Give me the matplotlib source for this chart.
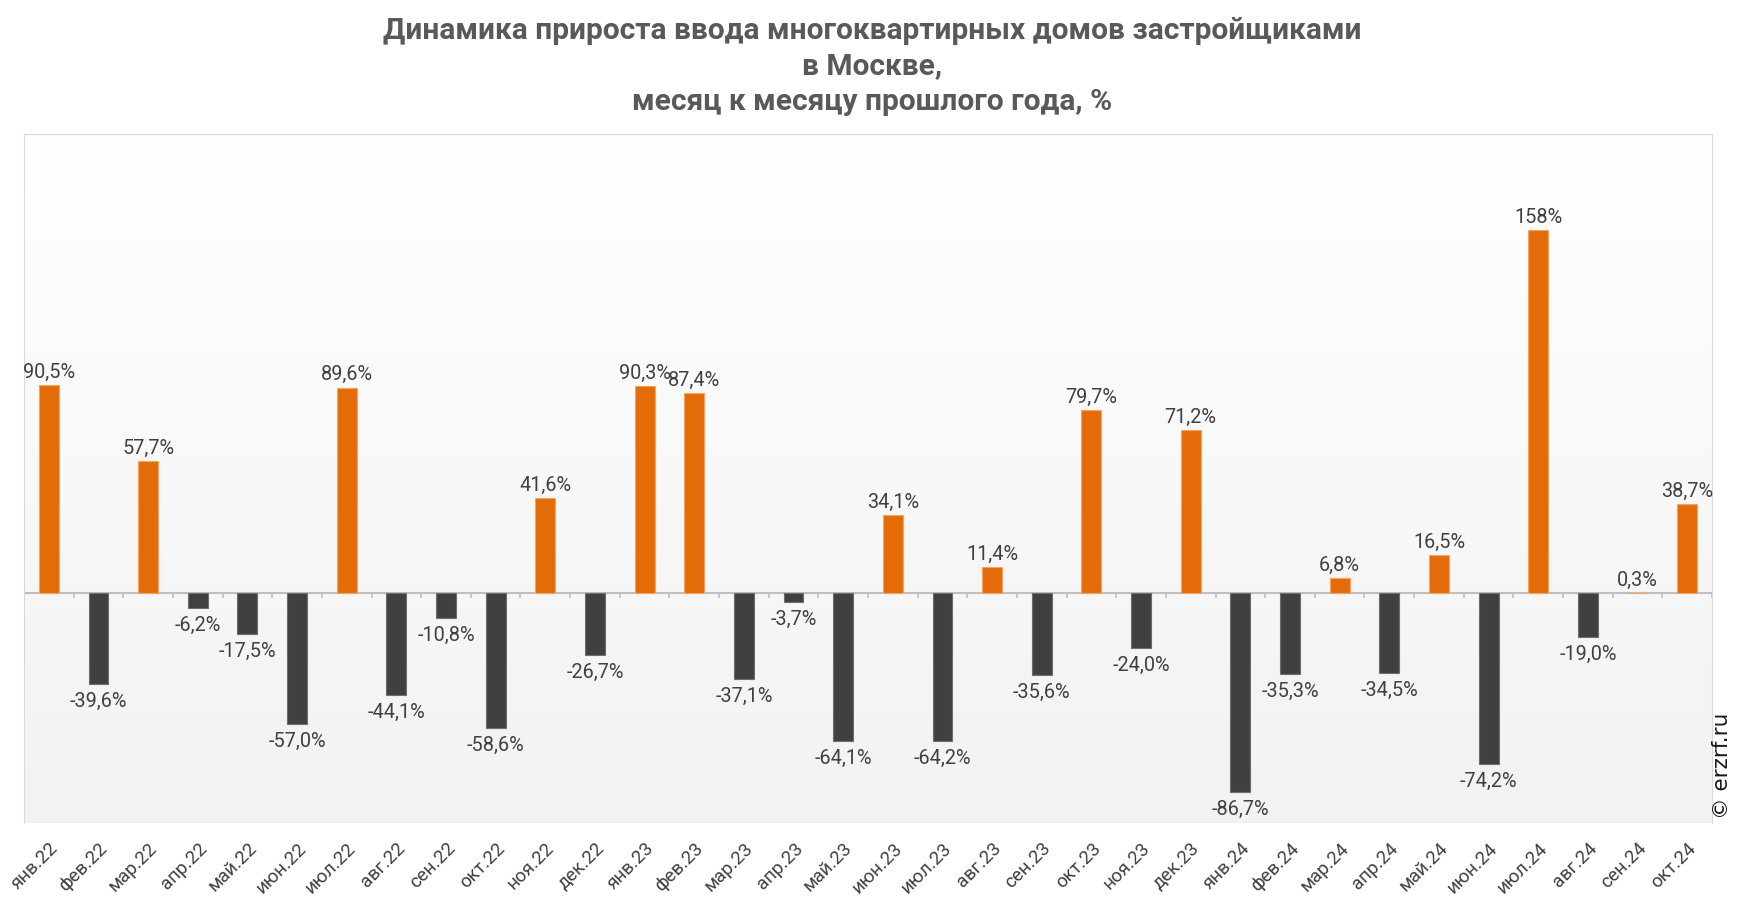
import matplotlib.pyplot as plt
import numpy as np

months = ['янв.22', 'фев.22', 'мар.22', 'апр.22', 'май.22', 'июн.22', 'июл.22', 'авг.22',
          'сен.22', 'окт.22', 'ноя.22', 'дек.22', 'янв.23', 'фев.23', 'мар.23', 'апр.23',
          'май.23', 'июн.23', 'июл.23', 'авг.23', 'сен.23', 'окт.23', 'ноя.23', 'дек.23',
          'янв.24', 'фев.24', 'мар.24', 'апр.24', 'май.24', 'июн.24', 'июл.24', 'авг.24',
          'сен.24', 'окт.24']
growth = [90.5, -39.6, 57.7, -6.2, -17.5, -57.0, 89.6, -44.1,
          -10.8, -58.6, 41.6, -26.7, 90.3, 87.4, -37.1, -3.7,
          -64.1, 34.1, -64.2, 11.4, -35.6, 79.7, -24.0, 71.2,
          -86.7, -35.3, 6.8, -34.5, 16.5, -74.2, 158.0, -19.0,
          0.3, 38.7]

plt.rcParams['font.family'] = ['Roboto', 'DejaVu Sans']

fig = plt.figure(figsize=(17.41, 9.12), dpi=100)
ax = fig.add_axes([24 / 1741, 88 / 912, 1688 / 1741, 689 / 912])

x = np.arange(len(months))
vals = np.array(growth)

# фон - градиент от белого к серому
grad = np.linspace(1.0, 0.949, 256).reshape(-1, 1)
ax.imshow(np.dstack([grad, grad, grad]), extent=[0, 1, 0, 1], transform=ax.transAxes,
          aspect='auto', zorder=0)

colors = ['#E36C09' if v >= 0 else '#404040' for v in vals]
edges = ['#F4A460' if v >= 0 else '#6E6E6E' for v in vals]
ax.bar(x, vals, width=0.4, color=colors, edgecolor=edges, linewidth=0.8, zorder=3)

ax.axhline(0, color='#BFBFBF', linewidth=1.5, zorder=2)
ax.vlines(np.arange(-0.5, len(months)), -2, 0, color='#BFBFBF', linewidth=1.2, zorder=2)

for xi, v in zip(x, vals):
    if abs(v) >= 100:
        txt = '%d%%' % round(v)
    else:
        txt = ('%.1f%%' % v).replace('.', ',')
    if v >= 0:
        ax.annotate(txt, (xi, v), xytext=(0, 3), textcoords='offset points',
                    ha='center', va='bottom', fontsize=14.3, color='#404040', zorder=4)
    else:
        ax.annotate(txt, (xi, v), xytext=(0, -5), textcoords='offset points',
                    ha='center', va='top', fontsize=14.3, color='#404040', zorder=4)

ax.set_xlim(-0.5, len(months) - 0.5)
ax.set_ylim(-100, 200)
ax.set_yticks([])
ax.set_xticks(x)
ax.set_xticklabels(months, rotation=45, ha='right', rotation_mode='anchor',
                   fontsize=13.5, color='#404040')
ax.tick_params(axis='x', length=0, pad=11)

for s in ['left', 'right', 'top']:
    ax.spines[s].set_color('#D9D9D9')
ax.spines['bottom'].set_visible(False)

fig.text(0.501, 0.981, 'Динамика прироста ввода многоквартирных домов застройщиками\n'
         'в Москве,\nмесяц к месяцу прошлого года, %',
         ha='center', va='top', fontsize=21.5, fontweight='bold', color='#595959',
         linespacing=1.33)

fig.text(1722 / 1741, 1 - 766 / 912, '© erzrf.ru', rotation=90, ha='center', va='center',
         fontsize=15.5, color='#1A1A1A', family=['DejaVu Sans'])

plt.savefig('out.png', dpi=100)
